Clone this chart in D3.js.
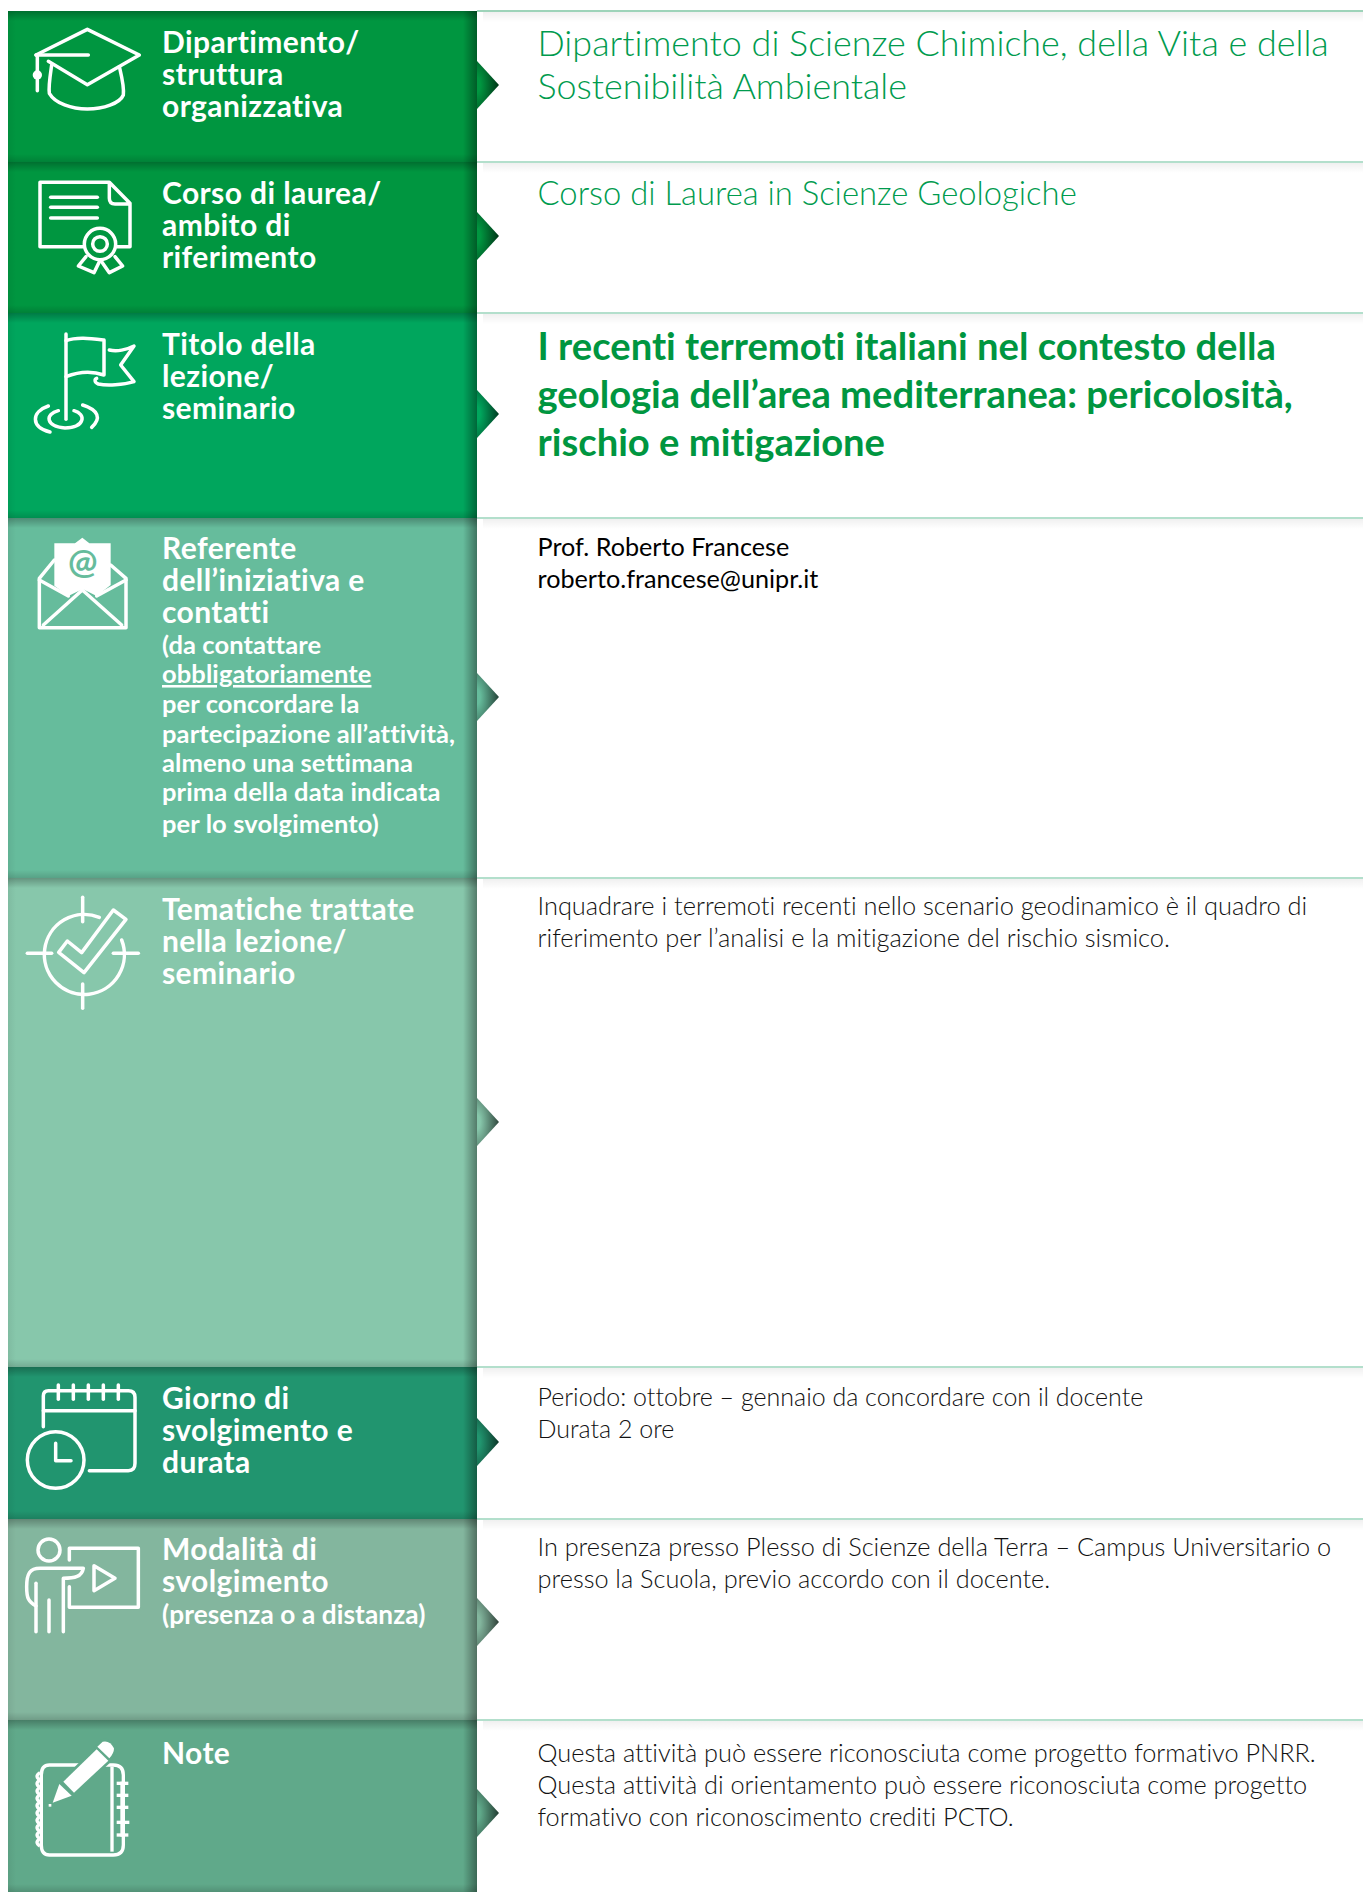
<!DOCTYPE html>
<html>
<head>
<meta charset="utf-8">
<script src="https://cdn.jsdelivr.net/npm/d3@7"></script>
<style>
html, body { margin: 0; padding: 0; background: #fff; }
svg { display: block; }
text { font-family: Lato, "Open Sans", sans-serif; font-variant-ligatures: none; }
.label { fill: #fff; font-weight: 700; }
</style>
</head>
<body>
<svg id="sheet"></svg>
<script>
const rowKeys = ['dip', 'corso', 'titolo', 'referente', 'tematiche', 'giorno', 'modalita', 'note'];
const rowColors = ['#009640', '#009640', '#00a65d', '#66bc9c', '#87c7ab', '#21956f', '#83b69e', '#60a98a'];

const labelLines = [
    ['Dipartimento/', 'struttura', 'organizzativa'],
    ['Corso di laurea/', 'ambito di', 'riferimento'],
    ['Titolo della', 'lezione/', 'seminario'],
    ['Referente', 'dell’iniziativa e', 'contatti'],
    ['Tematiche trattate', 'nella lezione/', 'seminario'],
    ['Giorno di', 'svolgimento e', 'durata'],
    ['Modalità di', 'svolgimento'],
    ['Note']
];
const labelNotes = [
    [], [], [],
    ['(da contattare', 'obbligatoriamente', 'per concordare la', 'partecipazione all’attività,', 'almeno una settimana', 'prima della data indicata', 'per lo svolgimento)'],
    [], [],
    ['(presenza o a distanza)'],
    []
];
const bodyLines = [
    ['Dipartimento di Scienze Chimiche, della Vita e della', 'Sostenibilità Ambientale'],
    ['Corso di Laurea in Scienze Geologiche'],
    ['I recenti terremoti italiani nel contesto della', 'geologia dell’area mediterranea: pericolosità,', 'rischio e mitigazione'],
    ['Prof. Roberto Francese', 'roberto.francese@unipr.it'],
    ['Inquadrare i terremoti recenti nello scenario geodinamico è il quadro di', 'riferimento per l’analisi e la mitigazione del rischio sismico.'],
    ['Periodo: ottobre – gennaio da concordare con il docente', 'Durata 2 ore'],
    ['In presenza presso Plesso di Scienze della Terra – Campus Universitario o', 'presso la Scuola, previo accordo con il docente.'],
    ['Questa attività può essere riconosciuta come progetto formativo PNRR.', 'Questa attività di orientamento può essere riconosciuta come progetto', 'formativo con riconoscimento crediti PCTO.']
];

// layout in px
const W = 1363, H = 1892;
const rowEdges = [11, 162, 313, 518, 878, 1367, 1519, 1720, 1892];
const arrowY = [85, 236, 414, 697, 1122, 1442, 1622, 1813];
const barLeft = 8, barRight = 477, arrowTip = 499, arrowHalf = 24;
const labelX = 162, bodyX = 537.5;
const labelBase = [53, 204, 355, 559, 920, 1409, 1560, 1764];
const noteLineY = [654, 683, 713, 743, 772, 801, 833];
const bodyBase = [56, 205, 360, 556, 915, 1406, 1556, 1762];
const bodyStep = [43, 0, 48, 32, 32, 32, 32, 32];
const bodySize = [35.9, 32.8, 38.2, 25.2, 25.4, 25, 25.3, 25.3];
const bodyWeight = [300, 300, 700, 400, 300, 300, 300, 300];
const bodyColor = ['#009b4e', '#009b4e', '#009640', '#000', '#111', '#111', '#111', '#111'];

const color = d3.scaleOrdinal(rowKeys, rowColors);
const svg = d3.select('#sheet').attr('width', W).attr('height', H).attr('viewBox', [0, 0, W, H]);
svg.append('rect').attr('width', W).attr('height', H).attr('fill', '#fff');

const defs = svg.append('defs');
function shade(id, x2, y2, from, to) {
    const g = defs.append('linearGradient').attr('id', id)
        .attr('x1', 0).attr('y1', 0).attr('x2', x2).attr('y2', y2);
    g.append('stop').attr('offset', 0).attr('stop-color', '#000').attr('stop-opacity', from);
    g.append('stop').attr('offset', 1).attr('stop-color', '#000').attr('stop-opacity', to);
}
shade('topShade', 0, 1, 0.26, 0);
shade('bottomShade', 0, 1, 0, 0.14);
shade('rightShade', 1, 0, 0, 0.38);
shade('leftShade', 1, 0, 0.06, 0);
shade('softShadow', 0, 1, 0.06, 0);

const rows = svg.selectAll('g.row').data(rowKeys).join('g').attr('class', 'row');

// white side first: rule and soft shadow under it
rows.append('rect').attr('x', barRight + 6).attr('y', (d, i) => rowEdges[i] + 1)
    .attr('width', W - barRight - 6).attr('height', 10).attr('fill', 'url(#softShadow)');
rows.append('line').attr('x1', barRight).attr('x2', W)
    .attr('y1', (d, i) => rowEdges[i]).attr('y2', (d, i) => rowEdges[i])
    .attr('stroke', (d, i) => i === 0 ? '#7cc4a2' : '#9ad4bb').attr('stroke-width', 1.5);

// arrows sit behind the bars
rows.each(function (d, i) {
    const g = defs.append('radialGradient').attr('id', 'arrow' + i)
        .attr('cx', 0).attr('cy', 0.5).attr('r', 1);
    g.append('stop').attr('offset', 0.15).attr('stop-color', color(d));
    g.append('stop').attr('offset', 0.95).attr('stop-color', d3.color(color(d)).darker(2.6));
});
rows.append('path')
    .attr('d', (d, i) => d3.line()([[barRight, arrowY[i] - arrowHalf], [arrowTip, arrowY[i]], [barRight, arrowY[i] + arrowHalf]]) + 'Z')
    .attr('fill', (d, i) => `url(#arrow${i})`);

// bars with their inner shading
const barH = (i) => rowEdges[i + 1] - rowEdges[i];
rows.append('rect').attr('x', barLeft).attr('y', (d, i) => rowEdges[i])
    .attr('width', barRight - barLeft).attr('height', (d, i) => barH(i)).attr('fill', color);
rows.append('rect').attr('x', barLeft).attr('y', (d, i) => rowEdges[i])
    .attr('width', 8).attr('height', (d, i) => barH(i)).attr('fill', 'url(#leftShade)');
rows.append('rect').attr('x', barRight - 14).attr('y', (d, i) => rowEdges[i])
    .attr('width', 14).attr('height', (d, i) => barH(i)).attr('fill', 'url(#rightShade)');
rows.append('rect').attr('x', barLeft).attr('y', (d, i) => rowEdges[i + 1] - 8)
    .attr('width', barRight - barLeft).attr('height', 8).attr('fill', 'url(#bottomShade)');
rows.append('rect').attr('x', barLeft).attr('y', (d, i) => rowEdges[i])
    .attr('width', barRight - barLeft).attr('height', 10).attr('fill', 'url(#topShade)');

// left labels
rows.each(function (d, i) {
    const g = d3.select(this);
    g.selectAll('text.main').data(labelLines[i]).join('text')
        .attr('class', 'main label')
        .attr('x', labelX).attr('y', (t, k) => labelBase[i] + k * 32)
        .attr('font-size', 30).attr('letter-spacing', 0.4).text((t) => t);
    g.selectAll('text.note').data(labelNotes[i]).join('text')
        .attr('class', 'note label')
        .attr('x', labelX)
        .attr('y', (t, k) => i === 3 ? noteLineY[k] : labelBase[i] + 64)
        .attr('font-size', i === 3 ? 25.5 : 26.2).attr('letter-spacing', 0.1)
        .attr('text-decoration', (t) => t === 'obbligatoriamente' ? 'underline' : null)
        .text((t) => t);
    g.selectAll('text.body').data(bodyLines[i]).join('text')
        .attr('class', 'body')
        .attr('x', bodyX).attr('y', (t, k) => bodyBase[i] + k * bodyStep[i])
        .attr('font-size', bodySize[i])
        .attr('font-weight', bodyWeight[i])
        .attr('fill', bodyColor[i]).text((t) => t);
});

// icons: drawn in the 3x zoom space, origin given per icon
const iconOrigin = [0, 0, 320, 515, 860, 1360, 1360, 1650];
const iconStroke = [
    ['M108 165L262 88L418 165L262 254L145 184', 'M108 165H265', 'M112 165V272',
     'M155 195C150 230 145 260 148 280C165 310 215 327 262 327C310 327 360 310 370 285C373 260 365 230 358 200'],
    ['M325 547H120V740H250', 'M350 740H390V610L328 547V595Q328 612 345 612H390',
     'M152 592H292', 'M152 622H292', 'M152 654H292',
     'M347 732A47 47 0 1 1 253 732A47 47 0 1 1 347 732', 'M322 732A22 22 0 1 1 278 732A22 22 0 1 1 322 732',
     'M258 770L235 798L282 818L298 785', 'M305 785L328 818L368 798L345 770'],
    ['M198 42V298', 'M198 62C230 50 270 55 312 60V165C270 150 235 155 198 170',
     'M328 90C350 95 380 90 402 78L362 135L402 185C370 195 320 197 295 192C283 188 283 178 290 175',
     'M175 272C135 282 135 318 195 324C255 322 260 282 222 272',
     'M145 258C95 275 90 320 150 336', 'M248 255C295 270 305 295 275 322'],
    ['M163 135L118 190V338H378V190L332 150', 'M118 195L205 243', 'M378 195L290 243', 'M130 330L247 225L365 330'],
    ['M248 112V185', 'M248 372V445', 'M82 280H155', 'M340 280H415',
     'M298 172A120 120 0 1 0 365 240',
     'M340 150L378 178L252 338L176 277L202 243L245 278Z'],
    ['M130 200V108Q130 92 145 92H385Q405 92 405 112V310Q405 332 385 332H268', 'M130 152H405',
     'M175 75V118', 'M220 75V118', 'M265 75V118', 'M310 75V118', 'M355 75V118',
     'M252 300A85 85 0 1 1 82 300A85 85 0 1 1 252 300', 'M167 250V302H213'],
    ['M180 570A33 33 0 1 1 114 570A33 33 0 1 1 180 570', 'M208 600V565H415V742H208V680',
     'M282 617L345 655L282 692Z',
     'M108 738C85 725 80 715 80 680C80 640 90 625 120 625H250C245 650 225 655 190 655V815',
     'M108 670V815', 'M147 720V815'],
    ['M148 345H340Q370 345 370 375V585Q370 615 340 615H148Q124 615 124 585V375Q124 345 148 345Z',
     'M336 350V605', 'M350 400H385', 'M350 436H385', 'M350 472H385', 'M350 517H388', 'M350 555H385',
     'M366 395V560',
     'M120 368q-18 11 0 22q-18 11 0 22q-18 11 0 22q-18 11 0 22q-18 11 0 22q-18 11 0 22q-18 11 0 22q-18 11 0 22q-18 11 0 22q-18 11 0 22']
];
const iconFill = [
    ['M112 211a14 14 0 1 1 0 28a14 14 0 1 1 0 -28'], [], [],
    ['M163 85H225L247 68L268 85H332V210L290 243L248 222L205 243L163 212Z'],
    [], [], [],
    ['M190 395L290 298L325 332L222 428Z', 'M178 402L215 437L158 458Z',
     'M292 290L308 275Q330 270 342 295Q342 310 328 325Z', 'M146 462h8v8h-8Z']
];
rows.each(function (d, i) {
    const g = d3.select(this).append('g')
        .attr('transform', `translate(0,${iconOrigin[i]}) scale(${1 / 3})`);
    if (i === 7) {
        // the pencil cuts the notebook outline
        g.selectAll('path.back').data(iconStroke[i]).join('path').attr('class', 'back')
            .attr('d', (p) => p).attr('fill', 'none').attr('stroke', '#fff').attr('stroke-width', 10);
        g.selectAll('path.gap').data(iconFill[i]).join('path').attr('class', 'gap')
            .attr('d', (p) => p).attr('fill', color(d)).attr('stroke', color(d)).attr('stroke-width', 16);
    } else {
        g.selectAll('path.line').data(iconStroke[i]).join('path').attr('class', 'line')
            .attr('d', (p) => p).attr('fill', 'none').attr('stroke', '#fff')
            .attr('stroke-width', 10.5).attr('stroke-linecap', 'round').attr('stroke-linejoin', 'round');
    }
    g.selectAll('path.solid').data(iconFill[i]).join('path').attr('class', 'solid')
        .attr('d', (p) => p).attr('fill', '#fff');
    if (i === 3) {
        g.append('text').attr('x', 248).attr('y', 178).attr('text-anchor', 'middle')
            .attr('font-size', 105).attr('font-weight', 700).attr('fill', color(d)).text('@');
    }
});
</script>
</body>
</html>
